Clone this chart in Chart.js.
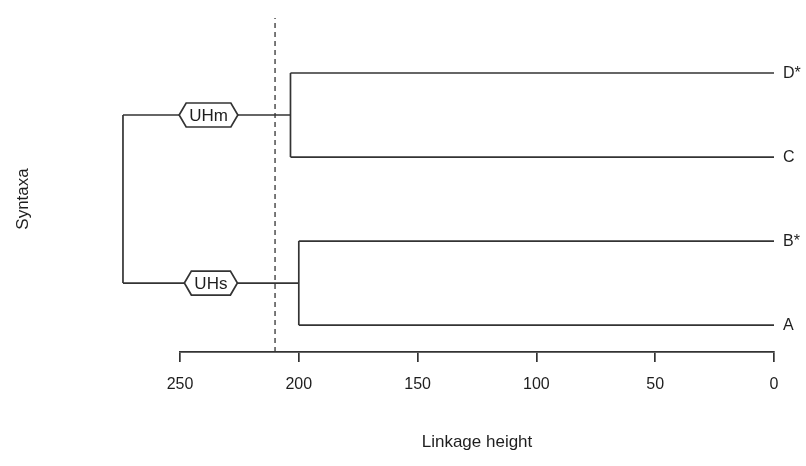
<!DOCTYPE html>
<html>
<head>
<meta charset="utf-8">
<script src="https://cdn.jsdelivr.net/npm/chart.js@4"></script>
<style>
  html, body { margin: 0; padding: 0; background: #fff; }
  canvas { display: block; }
</style>
</head>
<body>
<canvas id="c" width="806" height="466" style="width:806px;height:466px"></canvas>
<script>
// ---- data ----
const leafNames = ['A', 'B*', 'C', 'D*'];
const leafPositions = [1, 2, 3, 4];
const clusterNames = ['UHs', 'UHm'];
const clusterHeights = [200, 203.5];
const clusterMembers = [[0, 1], [2, 3]];   // indexes into leaves
const clusterLabelHeights = [237, 238];
const rootHeight = 274;
const cutHeight = 210;
const xTickValues = [250, 200, 150, 100, 50, 0];
const xTitle = 'Linkage height';
const yTitle = 'Syntaxa';

const yMin = 0.679, yMax = 4.655;
const LINE = '#333';
const TXT = '#1e1e1e';
const FONT = '"Liberation Sans", Arial, Helvetica, sans-serif';

// ---- build segments ----
const datasets = [];
function seg(points, extra) {
  datasets.push(Object.assign({
    data: points,
    borderColor: LINE,
    borderWidth: 1.7,
    pointRadius: 0,
    fill: false,
    tension: 0,
    clip: false
  }, extra || {}));
}
const clusterMid = [];
clusterMembers.forEach((m, ci) => {
  const h = clusterHeights[ci];
  const ys = m.map(i => leafPositions[i]);
  m.forEach(i => seg([{x: 0, y: leafPositions[i]}, {x: h, y: leafPositions[i]}]));
  seg([{x: h, y: Math.min(...ys)}, {x: h, y: Math.max(...ys)}]);
  const mid = ys.reduce((a, b) => a + b, 0) / ys.length;
  clusterMid.push(mid);
  seg([{x: h, y: mid}, {x: rootHeight, y: mid}]);
});
seg([{x: rootHeight, y: Math.min(...clusterMid)}, {x: rootHeight, y: Math.max(...clusterMid)}]);
seg([{x: cutHeight, y: yMin}, {x: cutHeight, y: yMax}], {borderDash: [5, 4], borderWidth: 1.3});

// ---- annotation plugin ----
const annot = {
  id: 'annot',
  afterDatasetsDraw(chart) {
    const {ctx, scales: {x, y}} = chart;
    ctx.save();
    // hexagon cluster labels
    ctx.font = '17px ' + FONT;
    ctx.textBaseline = 'middle';
    ctx.textAlign = 'center';
    clusterNames.forEach((name, ci) => {
      const cx = x.getPixelForValue(clusterLabelHeights[ci]);
      const cy = y.getPixelForValue(clusterMid[ci]);
      const w = ctx.measureText(name).width;
      const hw = w / 2 + 3, hh = 12, tip = 7;
      ctx.beginPath();
      ctx.moveTo(cx - hw - tip, cy);
      ctx.lineTo(cx - hw, cy - hh);
      ctx.lineTo(cx + hw, cy - hh);
      ctx.lineTo(cx + hw + tip, cy);
      ctx.lineTo(cx + hw, cy + hh);
      ctx.lineTo(cx - hw, cy + hh);
      ctx.closePath();
      ctx.fillStyle = '#fff';
      ctx.fill();
      ctx.strokeStyle = LINE;
      ctx.lineWidth = 1.7;
      ctx.stroke();
      ctx.fillStyle = TXT;
      ctx.fillText(name, cx, cy + 1);
    });
    // leaf labels
    ctx.textAlign = 'left';
    ctx.font = '16px ' + FONT;
    leafNames.forEach((n, i) => {
      ctx.fillText(n, x.getPixelForValue(0) + 9, y.getPixelForValue(leafPositions[i]) + 1);
    });
    // y title
    ctx.font = '17px ' + FONT;
    ctx.translate(23, 199);
    ctx.rotate(-Math.PI / 2);
    ctx.textAlign = 'center';
    ctx.fillText(yTitle, 0, 0);
    ctx.restore();
  }
};

new Chart(document.getElementById('c'), {
  type: 'line',
  data: { datasets },
  options: {
    responsive: false,
    animation: false,
    devicePixelRatio: 1,
    parsing: false,
    layout: { padding: { left: 180, right: 32, top: 18, bottom: 0 } },
    plugins: { legend: { display: false }, tooltip: { enabled: false } },
    scales: {
      x: {
        type: 'linear',
        reverse: true,
        min: 0, max: 250,
        afterBuildTicks: s => { s.ticks = xTickValues.map(v => ({value: v})); },
        afterFit: s => { s.height = 114; s.paddingLeft = 0; s.paddingRight = 0; },
        border: { display: true, color: LINE, width: 1.7 },
        grid: { display: true, drawOnChartArea: false, drawTicks: true, tickLength: 10, color: LINE, lineWidth: 1.7 },
        ticks: { color: TXT, font: { family: FONT, size: 16 }, padding: 13, maxRotation: 0, autoSkip: false },
        title: { display: true, text: xTitle, color: TXT, font: { family: FONT, size: 17 }, padding: { top: 0, bottom: 13 } }
      },
      y: {
        type: 'linear',
        display: false,
        min: yMin, max: yMax
      }
    }
  },
  plugins: [annot]
});
</script>
</body>
</html>
